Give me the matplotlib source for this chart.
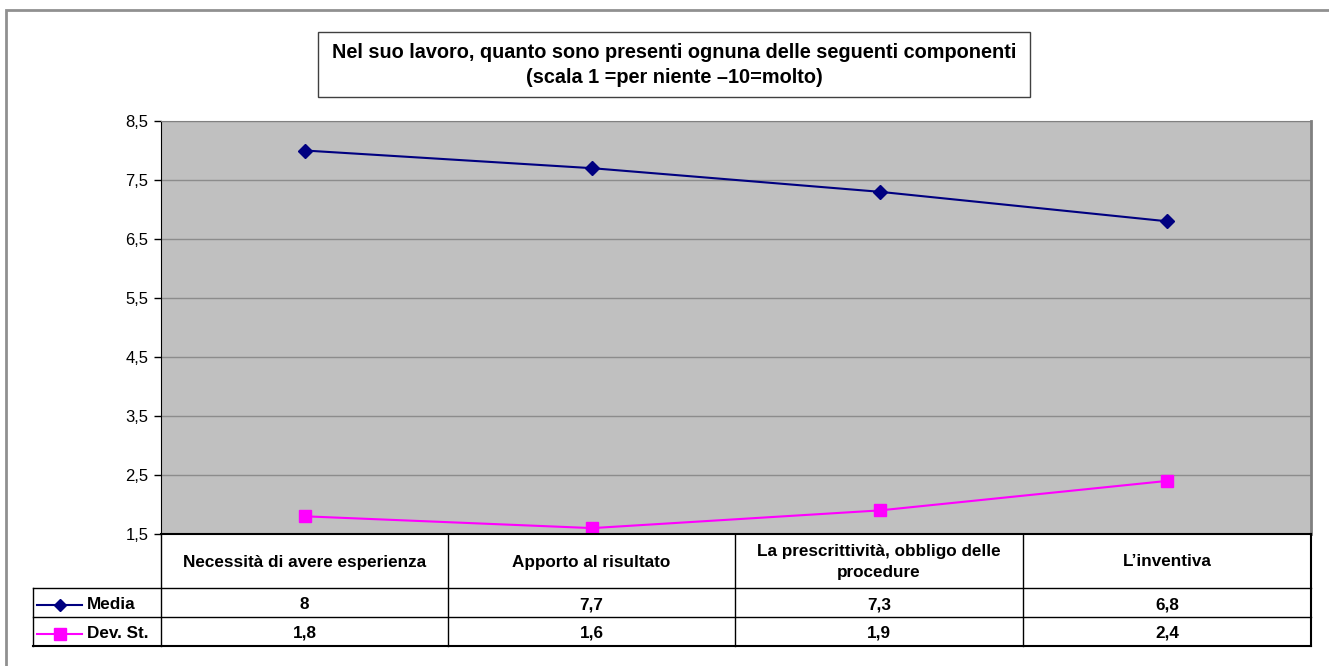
import matplotlib.pyplot as plt
from matplotlib.patches import Rectangle
from matplotlib.lines import Line2D

categories = ["Necessità di avere esperienza", "Apporto al risultato",
              "La prescrittività, obbligo delle\nprocedure", "L\u2019inventiva"]
media = [8, 7.7, 7.3, 6.8]
dev_st = [1.8, 1.6, 1.9, 2.4]
media_labels = ["8", "7,7", "7,3", "6,8"]
dev_labels = ["1,8", "1,6", "1,9", "2,4"]
yticks = [1.5, 2.5, 3.5, 4.5, 5.5, 6.5, 7.5, 8.5]

W, H = 1329, 666
plt.rcParams['font.family'] = ['Liberation Sans', 'DejaVu Sans']
fig = plt.figure(figsize=(W / 100, H / 100), dpi=100)


def fx(px):
    return px / W


def fy(py):
    return 1 - py / H


# outer frame (runs off the right and bottom edges)
fig.patches.append(Rectangle((fx(6), fy(700)), fx(1360), 690 / H, transform=fig.transFigure,
                             fill=False, edgecolor='#909090', lw=2, clip_on=False))

# plot area
left, right, top, bot = 161, 1311, 121, 534
ax = fig.add_axes([fx(left), fy(bot), fx(right - left), (bot - top) / H])
ax.set_facecolor('#C0C0C0')
x = range(len(categories))
ax.plot(x, media, color='#000080', marker='D', markersize=7, lw=1.5)
ax.plot(x, dev_st, color='#FF00FF', marker='s', markersize=8, lw=1.5)
ax.set_xlim(-0.5, len(categories) - 0.5)
ax.set_ylim(1.5, 8.5)
ax.set_yticks(yticks)
ax.set_yticklabels([str(v).replace('.', ',') for v in yticks], fontsize=12)
ax.set_xticks([])
ax.grid(axis='y', color='#8c8c8c', lw=1)
ax.set_axisbelow(True)
ax.tick_params(axis='y', length=5, width=1, pad=4)
ax.spines['left'].set_color('black')
ax.spines['bottom'].set_color('black')
ax.spines['bottom'].set_linewidth(1.5)
ax.spines['top'].set_color('#808080')
ax.spines['right'].set_color('#808080')
ax.spines['right'].set_linewidth(2)

# title box
fig.patches.append(Rectangle((fx(318), fy(97)), fx(1030 - 318), 65 / H, transform=fig.transFigure,
                             fill=True, facecolor='white', edgecolor='#404040', lw=1))
fig.text(fx(674), fy(65), "Nel suo lavoro, quanto sono presenti ognuna delle seguenti componenti\n"
         "(scala 1 =per niente \u201310=molto)", ha='center', va='center', fontsize=14.3,
         fontweight='bold', linespacing=1.4)

# data table
cols = [161, 448, 735, 1023, 1311]
rows = [534, 588, 617, 646]
tleft = 33


def hline(y, x0, x1, lw=1):
    fig.lines.append(Line2D([fx(x0), fx(x1)], [fy(y), fy(y)], transform=fig.transFigure,
                            color='black', lw=lw))


def vline(xp, y0, y1, lw=1):
    fig.lines.append(Line2D([fx(xp), fx(xp)], [fy(y0), fy(y1)], transform=fig.transFigure,
                            color='black', lw=lw))


hline(rows[1], tleft, cols[-1])
hline(rows[2], tleft, cols[-1])
hline(rows[3], tleft, cols[-1], lw=1.5)
vline(tleft, rows[1], rows[3])
for c in cols[:-1]:
    vline(c, rows[0], rows[3])
vline(cols[-1], rows[0], rows[3], lw=1.5)

fs = 12.3
for i, cat in enumerate(categories):
    cx = (cols[i] + cols[i + 1]) / 2
    fig.text(fx(cx), fy((rows[0] + rows[1]) / 2 + 1), cat, ha='center', va='center',
             fontsize=fs, fontweight='bold', linespacing=1.45)
    fig.text(fx(cx), fy((rows[1] + rows[2]) / 2 + 2), media_labels[i], ha='center', va='center',
             fontsize=fs, fontweight='bold')
    fig.text(fx(cx), fy((rows[2] + rows[3]) / 2 + 2), dev_labels[i], ha='center', va='center',
             fontsize=fs, fontweight='bold')

# legend keys inside the table
for r, (name, col, mk, ms) in enumerate([("Media", '#000080', 'D', 6), ("Dev. St.", '#FF00FF', 's', 9)]):
    yc = fy((rows[r + 1] + rows[r + 2]) / 2 + 2)
    fig.lines.append(Line2D([fx(37), fx(82)], [yc, yc], transform=fig.transFigure,
                            color=col, lw=1.5))
    fig.lines.append(Line2D([fx(59.5)], [yc], transform=fig.transFigure,
                            color=col, marker=mk, markersize=ms, lw=0))
    fig.text(fx(87), yc, name, ha='left', va='center', fontsize=fs, fontweight='bold')

fig.savefig('out.png', dpi=100)
